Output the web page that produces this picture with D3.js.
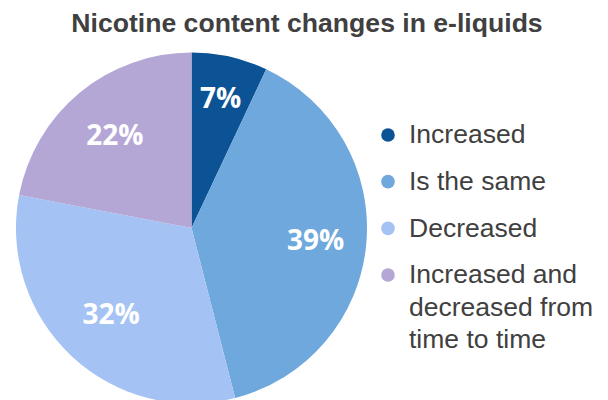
<!DOCTYPE html>
<html>
<head>
<meta charset="utf-8">
<script src="https://cdn.jsdelivr.net/npm/d3@7/dist/d3.min.js"></script>
<style>
  html, body { margin: 0; padding: 0; background: #fff; }
  svg { display: block; }
</style>
</head>
<body>
<svg id="chart" width="608" height="400"></svg>
<script>
// Survey answers: how nicotine content in e-liquids has changed
const categories = ["Increased", "Is the same", "Decreased", "Increased and decreased from time to time"];
const shares = [7, 39, 32, 22];
const legendLines = [["Increased"], ["Is the same"], ["Decreased"], ["Increased and", "decreased from", "time to time"]];
const colors = ["#0b5394", "#6fa8dc", "#a4c2f4", "#b4a7d6"];

// label distance from centre, as a fraction of the radius, per slice
const labelRadiusFactor = [0.76, 0.71, 0.67, 0.685];

const width = 608, height = 400;
const cx = 191.5, cy = 228, radius = 175.5;

const svg = d3.select("#chart");

svg.append("text")
  .attr("x", 307)
  .attr("y", 31.5)
  .attr("text-anchor", "middle")
  .attr("font-family", "'Liberation Sans', Arial, sans-serif")
  .attr("font-weight", "bold")
  .attr("font-size", "26.6px")
  .attr("fill", "#404040")
  .text("Nicotine content changes in e-liquids");

const data = categories.map((c, i) => ({ category: c, value: shares[i], color: colors[i], idx: i }));

const pie = d3.pie().sort(null).value(d => d.value);
const arcs = pie(data);
const arc = d3.arc().innerRadius(0).outerRadius(radius);

const g = svg.append("g").attr("transform", `translate(${cx},${cy})`);

g.selectAll("path.slice")
  .data(arcs)
  .join("path")
  .attr("class", "slice")
  .attr("d", arc)
  .attr("fill", d => d.data.color);

g.selectAll("text.pct")
  .data(arcs)
  .join("text")
  .attr("class", "pct")
  .attr("transform", d => {
    const r = radius * labelRadiusFactor[d.data.idx];
    const lab = d3.arc().innerRadius(r).outerRadius(r);
    const [x, y] = lab.centroid(d);
    return `translate(${x},${y})`;
  })
  .attr("text-anchor", "middle")
  .attr("dy", "0.36em")
  .attr("font-family", "'Open Sans', 'Noto Sans', sans-serif")
  .attr("font-weight", "bold")
  .attr("font-size", "28px")
  .attr("fill", "#ffffff")
  .text(d => d.data.value + "%");

// legend
const rowY = d3.scalePoint().domain(categories).range([135, 275]);
const lineH = 32.5;

const legend = svg.append("g");
const rows = legend.selectAll("g.row")
  .data(data)
  .join("g")
  .attr("class", "row")
  .attr("transform", d => `translate(388,${rowY(d.category)})`);

rows.append("circle")
  .attr("r", 6.8)
  .attr("fill", d => d.color);

rows.append("text")
  .attr("x", 21)
  .attr("font-family", "'Liberation Sans', Arial, sans-serif")
  .attr("font-size", "26.5px")
  .attr("fill", "#404040")
  .selectAll("tspan")
  .data(d => legendLines[d.idx])
  .join("tspan")
  .attr("x", 21)
  .attr("y", (t, i) => i * lineH)
  .attr("dy", "0.32em")
  .text(t => t);
</script>
</body>
</html>
